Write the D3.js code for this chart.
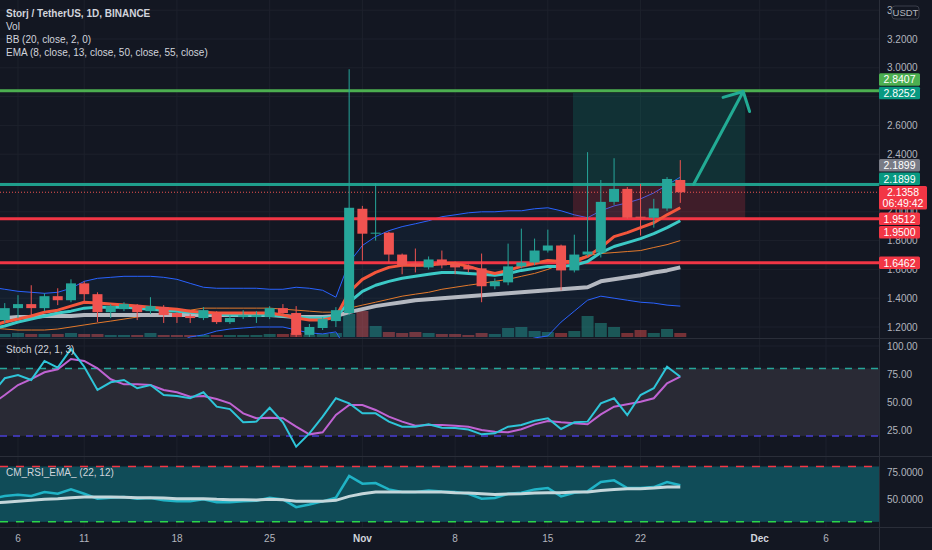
<!DOCTYPE html>
<html>
<head>
<meta charset="utf-8">
<script src="https://cdn.jsdelivr.net/npm/d3@7"></script>
<style>
  html, body { margin: 0; padding: 0; background: #131722; }
  svg { display: block; }
  text { font-family: "Liberation Sans", Arial, sans-serif; }
</style>
</head>
<body>
<svg id="chart" width="932" height="550"></svg>
<script>
// daily bars, first one is Oct 4 2021
var opens = [1.221, 1.248, 1.331, 1.359, 1.331, 1.414, 1.386, 1.503, 1.428, 1.303, 1.324, 1.352, 1.310, 1.338, 1.297, 1.276, 1.262, 1.297, 1.234, 1.269, 1.269, 1.269, 1.331, 1.297, 1.145, 1.193, 1.241, 1.297, 2.021, 1.848, 1.855, 1.703, 1.641, 1.614, 1.669, 1.641, 1.621, 1.607, 1.483, 1.510, 1.621, 1.648, 1.731, 1.766, 1.593, 1.703, 1.717, 2.069, 2.159, 1.966, 1.959, 2.023, 2.221];
var highs = [1.269, 1.366, 1.421, 1.490, 1.434, 1.469, 1.531, 1.517, 1.441, 1.359, 1.372, 1.359, 1.407, 1.352, 1.303, 1.290, 1.338, 1.310, 1.283, 1.317, 1.310, 1.345, 1.359, 1.345, 1.221, 1.269, 1.338, 2.990, 2.041, 2.200, 1.862, 1.710, 1.745, 1.690, 1.731, 1.655, 1.635, 1.710, 1.538, 1.779, 1.883, 1.814, 1.876, 1.772, 1.841, 2.414, 2.221, 2.372, 2.172, 2.193, 2.090, 2.241, 2.359];
var lows = [1.200, 1.228, 1.262, 1.283, 1.310, 1.352, 1.372, 1.366, 1.234, 1.262, 1.310, 1.248, 1.290, 1.228, 1.228, 1.228, 1.248, 1.221, 1.221, 1.255, 1.228, 1.255, 1.276, 1.131, 1.131, 1.179, 1.200, 1.283, 1.662, 1.800, 1.648, 1.566, 1.579, 1.600, 1.607, 1.566, 1.579, 1.372, 1.462, 1.490, 1.607, 1.628, 1.717, 1.455, 1.579, 1.690, 1.683, 2.048, 1.952, 1.835, 1.890, 2.007, 2.062];
var closes = [1.248, 1.331, 1.359, 1.331, 1.414, 1.386, 1.503, 1.428, 1.303, 1.345, 1.359, 1.303, 1.345, 1.283, 1.269, 1.262, 1.317, 1.234, 1.262, 1.283, 1.283, 1.331, 1.297, 1.145, 1.200, 1.255, 1.317, 2.028, 1.848, 1.855, 1.703, 1.628, 1.621, 1.669, 1.628, 1.614, 1.600, 1.483, 1.517, 1.621, 1.648, 1.731, 1.766, 1.593, 1.703, 1.724, 2.069, 2.159, 1.959, 1.959, 2.023, 2.228, 2.1358];
var volumes = [6, 6, 8, 6, 6, 6, 8, 6, 6, 4, 4, 4, 8, 4, 4, 4, 4, 4, 4, 4, 4, 6, 6, 8, 4, 6, 8, 46, 52, 22, 10, 8, 10, 8, 6, 6, 4, 8, 6, 18, 20, 12, 10, 8, 12, 42, 28, 20, 8, 14, 8, 16, 8];

var ema8 = [1.207, 1.235, 1.255, 1.276, 1.303, 1.317, 1.345, 1.372, 1.366, 1.359, 1.352, 1.345, 1.338, 1.331, 1.324, 1.310, 1.303, 1.297, 1.297, 1.297, 1.297, 1.297, 1.283, 1.262, 1.248, 1.248, 1.269, 1.441, 1.531, 1.579, 1.614, 1.628, 1.628, 1.628, 1.641, 1.641, 1.621, 1.593, 1.572, 1.593, 1.621, 1.641, 1.662, 1.655, 1.655, 1.690, 1.752, 1.828, 1.855, 1.890, 1.924, 1.979, 2.028];
var ema13 = [1.186, 1.207, 1.235, 1.255, 1.276, 1.297, 1.310, 1.331, 1.338, 1.338, 1.338, 1.331, 1.324, 1.317, 1.310, 1.303, 1.297, 1.290, 1.283, 1.283, 1.283, 1.283, 1.276, 1.269, 1.262, 1.262, 1.269, 1.372, 1.448, 1.490, 1.517, 1.538, 1.552, 1.566, 1.579, 1.579, 1.572, 1.566, 1.559, 1.572, 1.593, 1.607, 1.621, 1.621, 1.628, 1.655, 1.717, 1.759, 1.786, 1.814, 1.848, 1.890, 1.938];
var ema55 = [1.262, 1.262, 1.269, 1.269, 1.276, 1.276, 1.276, 1.283, 1.283, 1.283, 1.283, 1.283, 1.283, 1.283, 1.283, 1.283, 1.283, 1.283, 1.283, 1.283, 1.283, 1.283, 1.276, 1.269, 1.269, 1.269, 1.276, 1.303, 1.324, 1.345, 1.359, 1.372, 1.386, 1.393, 1.400, 1.407, 1.414, 1.421, 1.428, 1.434, 1.441, 1.448, 1.455, 1.462, 1.469, 1.476, 1.517, 1.531, 1.545, 1.559, 1.579, 1.593, 1.614];
var bbBasis = [1.193, 1.186, 1.179, 1.179, 1.179, 1.186, 1.200, 1.214, 1.228, 1.241, 1.255, 1.269, 1.283, 1.297, 1.310, 1.317, 1.331, 1.331, 1.331, 1.331, 1.331, 1.331, 1.324, 1.317, 1.310, 1.303, 1.303, 1.331, 1.352, 1.372, 1.393, 1.414, 1.428, 1.441, 1.462, 1.476, 1.490, 1.503, 1.517, 1.531, 1.552, 1.572, 1.600, 1.638, 1.669, 1.697, 1.710, 1.717, 1.724, 1.731, 1.752, 1.772, 1.800];
var bbUpper = [1.476, 1.462, 1.448, 1.441, 1.434, 1.441, 1.469, 1.517, 1.538, 1.545, 1.552, 1.552, 1.552, 1.545, 1.531, 1.503, 1.476, 1.469, 1.469, 1.469, 1.469, 1.462, 1.462, 1.476, 1.469, 1.455, 1.407, 1.648, 1.766, 1.828, 1.869, 1.897, 1.917, 1.938, 1.966, 1.979, 1.993, 2.000, 2.000, 2.007, 2.007, 2.021, 2.028, 2.007, 1.979, 1.959, 2.007, 2.041, 2.062, 2.090, 2.131, 2.186, 2.241];
var bbLower = [0.910, 0.910, 0.910, 0.917, 0.924, 0.931, 0.931, 0.910, 0.917, 0.938, 0.959, 0.986, 1.014, 1.048, 1.090, 1.131, 1.145, 1.172, 1.186, 1.193, 1.200, 1.200, 1.200, 1.179, 1.159, 1.152, 1.166, 1.014, 0.938, 0.917, 0.917, 0.931, 0.938, 0.945, 0.959, 0.972, 0.986, 1.007, 1.034, 1.055, 1.097, 1.124, 1.138, 1.234, 1.310, 1.386, 1.414, 1.400, 1.386, 1.372, 1.366, 1.352, 1.345];

var stochK = [57.0, 71.3, 74.2, 69.8, 86.7, 80.7, 97.3, 81.6, 60.9, 67.7, 69.8, 62.4, 65.3, 56.4, 55.5, 53.5, 58.8, 46.0, 43.9, 32.1, 32.7, 45.1, 32.1, 10.4, 22.3, 37.1, 53.5, 49.0, 40.1, 40.1, 32.7, 28.2, 28.2, 30.3, 27.3, 27.0, 25.7, 21.4, 22.3, 28.2, 29.7, 33.5, 35.7, 26.2, 32.1, 32.7, 49.0, 53.5, 38.6, 56.4, 62.4, 81.6, 72.7];
var stochD = [48.0, 56.4, 65.3, 70.6, 76.6, 79.3, 88.4, 86.7, 80.2, 70.4, 65.9, 65.9, 65.3, 60.9, 58.8, 54.9, 55.5, 52.8, 49.0, 40.1, 35.7, 36.2, 35.7, 28.2, 21.4, 23.2, 38.6, 47.5, 47.5, 43.1, 37.1, 32.7, 29.1, 29.7, 29.7, 29.1, 28.2, 25.3, 23.8, 23.2, 25.9, 30.3, 33.3, 32.1, 31.2, 30.3, 39.2, 46.0, 48.1, 50.4, 53.5, 66.8, 72.7];
var rsi = [51.0, 53.3, 54.5, 53.3, 56.9, 55.4, 59.3, 55.4, 50.9, 51.8, 52.4, 50.9, 51.5, 49.4, 48.7, 48.5, 50.3, 47.8, 47.8, 48.7, 49.0, 51.8, 50.3, 43.3, 45.7, 48.5, 51.8, 71.4, 64.5, 65.0, 59.3, 56.9, 56.9, 58.4, 57.5, 56.9, 55.4, 50.9, 51.5, 55.4, 56.3, 59.3, 60.5, 53.0, 56.3, 57.5, 66.0, 67.5, 60.5, 60.5, 61.4, 66.0, 63.0];
var rsiEma = [47.0, 47.8, 48.7, 49.4, 50.3, 50.9, 51.8, 52.4, 52.4, 52.4, 52.1, 51.8, 51.8, 51.5, 50.9, 50.9, 50.9, 50.3, 50.0, 50.0, 49.7, 50.3, 50.0, 48.7, 48.5, 48.7, 49.4, 53.0, 55.4, 56.9, 56.9, 56.9, 56.9, 56.9, 56.9, 56.3, 56.0, 55.4, 54.8, 55.1, 55.4, 56.0, 56.3, 56.3, 56.9, 56.9, 58.4, 59.3, 59.9, 59.9, 60.5, 61.4, 61.4];

var timeTicks = ["2021-10-06", "2021-10-11", "2021-10-18", "2021-10-25", "2021-11-01", "2021-11-08", "2021-11-15", "2021-11-22", "2021-12-01", "2021-12-06"];
var priceTicks = [1.2, 1.4, 1.6, 1.8, 2.0, 2.2, 2.4, 2.6, 2.8, 3.0, 3.2, 3.4];
var stochTicks = [25, 50, 75, 100];
var rsiTicks = [50, 75];

// drawn levels and the long position tool (days counted from Oct 4)
var levels = [
  { price: 2.8407, color: "#4caf50" },
  { price: 2.1899, color: "#1f9e8c" },
  { price: 1.9512, color: "#f23645" },
  { price: 1.6462, color: "#f23645" }
];
var longPos = { from: 43.9, to: 56.9, entry: 2.1899, target: 2.8252, stop: 1.95 };
var arrowFrom = { day: 53, price: 2.19 };
var arrowTo = { day: 56.75, price: 2.835 };

var priceTags = [
  { text: "2.8407", price: 2.8407, bg: "#4caf50", move: "up" },
  { text: "2.8252", price: 2.8252, bg: "#089981", move: "fixed" },
  { text: "2.1899", price: 2.1899, bg: "#787b86", move: "up" },
  { text: "2.1899", price: 2.1899, bg: "#089981", move: "up" },
  { text: "2.1358", sub: "06:49:42", price: 2.1358, bg: "#f23645", move: "fixed" },
  { text: "1.9512", price: 1.9512, bg: "#f23645", move: "fixed" },
  { text: "1.9500", price: 1.95, bg: "#f23645", move: "down" },
  { text: "1.6462", price: 1.6462, bg: "#f23645", move: "fixed" }
];

var svg = d3.select("#chart");
var W = 932, H = 550, plotW = 879;
var mainTop = 0, mainBot = 338, stTop = 339, stBot = 456, rsTop = 457, rsBot = 527;
var up = "#26a69a", down = "#ef5350", gridC = "#1d212c", sepC = "#2a2e39", axisText = "#b2b5be";

var t0 = Date.UTC(2021, 9, 4);
var day = function (i) { return new Date(t0 + i * 864e5); };
var x = d3.scaleUtc().domain([day(0), day(63)]).range([-8.5, 826]);
var yP = d3.scaleLinear().domain([1.2, 3.2]).range([327, 39]);
var yVol = d3.scaleLinear().domain([0, 60]).range([337, 307]);
var yS = d3.scaleLinear().domain([0, 100]).range([458.4, 346]);
var yR = d3.scaleLinear().domain([0, 100]).range([555.1, 444.3]);

var bars = opens.map(function (o, i) {
  return { i: i, date: day(i), o: o, h: highs[i], l: lows[i], c: closes[i], v: volumes[i] };
});

svg.append("rect").attr("width", W).attr("height", H).attr("fill", "#131722");

var defs = svg.append("defs");
[["clipMain", mainTop, mainBot], ["clipSt", stTop, stBot], ["clipRs", rsTop, rsBot]].forEach(function (c) {
  defs.append("clipPath").attr("id", c[0]).append("rect")
    .attr("x", 0).attr("y", c[1]).attr("width", plotW).attr("height", c[2] - c[1]);
});

// grid
var grid = svg.append("g");
var parseDay = d3.utcParse("%Y-%m-%d");
var tickDates = timeTicks.map(parseDay);
grid.selectAll("line.v").data(tickDates).join("line")
  .attr("x1", function (d) { return x(d); }).attr("x2", function (d) { return x(d); })
  .attr("y1", 0).attr("y2", rsBot).attr("stroke", gridC);
grid.selectAll("line.hp").data(priceTicks).join("line")
  .attr("x1", 0).attr("x2", plotW).attr("y1", function (d) { return yP(d); }).attr("y2", function (d) { return yP(d); })
  .attr("stroke", gridC);
grid.selectAll("line.hs").data(stochTicks).join("line")
  .attr("x1", 0).attr("x2", plotW).attr("y1", function (d) { return yS(d); }).attr("y2", function (d) { return yS(d); })
  .attr("stroke", gridC);
grid.selectAll("line.hr").data(rsiTicks).join("line")
  .attr("x1", 0).attr("x2", plotW).attr("y1", function (d) { return yR(d); }).attr("y2", function (d) { return yR(d); })
  .attr("stroke", gridC);

// ---------- main pane ----------
var main = svg.append("g").attr("clip-path", "url(#clipMain)");

// volume
main.selectAll("rect.vol").data(bars).join("rect")
  .attr("x", function (d) { return x(d.date) - 6; })
  .attr("y", function (d) { return yVol(d.v); })
  .attr("width", 12)
  .attr("height", function (d) { return yVol(0) - yVol(d.v); })
  .attr("fill", function (d) { return d.c >= d.o ? up : down; })
  .attr("opacity", 0.45);

// bollinger fill and bands
main.append("path").datum(bars)
  .attr("fill", "rgba(33,150,243,0.06)")
  .attr("d", d3.area().x(function (d) { return x(d.date); })
    .y0(function (d) { return yP(bbLower[d.i]); })
    .y1(function (d) { return yP(bbUpper[d.i]); }));

function line(arr, scale) {
  return d3.line().x(function (d) { return x(d.date); }).y(function (d) { return scale(arr[d.i]); });
}
[[bbUpper, "#2962ff", 1], [bbLower, "#2962ff", 1], [bbBasis, "#e3792b", 1]].forEach(function (s) {
  main.append("path").datum(bars).attr("fill", "none")
    .attr("stroke", s[1]).attr("stroke-width", s[2]).attr("d", line(s[0], yP));
});

// long position zones
main.append("rect")
  .attr("x", x(day(longPos.from))).attr("width", x(day(longPos.to)) - x(day(longPos.from)))
  .attr("y", yP(longPos.target)).attr("height", yP(longPos.entry) - yP(longPos.target))
  .attr("fill", "rgba(8,153,129,0.2)");
main.append("rect")
  .attr("x", x(day(longPos.from))).attr("width", x(day(longPos.to)) - x(day(longPos.from)))
  .attr("y", yP(longPos.entry)).attr("height", yP(longPos.stop) - yP(longPos.entry))
  .attr("fill", "rgba(242,54,69,0.2)");

// horizontal levels
main.selectAll("line.lvl").data(levels).join("line")
  .attr("x1", 0).attr("x2", plotW)
  .attr("y1", function (d) { return yP(d.price); }).attr("y2", function (d) { return yP(d.price); })
  .attr("stroke", function (d) { return d.color; }).attr("stroke-width", 3);

// EMAs
[[ema55, "#b4b8c0", 4], [ema13, "#3cc9c6", 3], [ema8, "#f4563c", 3]].forEach(function (s) {
  main.append("path").datum(bars).attr("fill", "none")
    .attr("stroke", s[1]).attr("stroke-width", s[2]).attr("stroke-linejoin", "round")
    .attr("d", line(s[0], yP));
});

// current price line
var last = bars[bars.length - 1];
main.append("line").attr("x1", 0).attr("x2", plotW)
  .attr("y1", yP(last.c)).attr("y2", yP(last.c))
  .attr("stroke", down).attr("stroke-dasharray", "1,2");

// candles
var bw = 10;
var cg = main.selectAll("g.candle").data(bars).join("g");
cg.append("line")
  .attr("x1", function (d) { return x(d.date); }).attr("x2", function (d) { return x(d.date); })
  .attr("y1", function (d) { return yP(d.h); }).attr("y2", function (d) { return yP(d.l); })
  .attr("stroke", function (d) { return d.c >= d.o ? up : down; });
cg.append("rect")
  .attr("x", function (d) { return x(d.date) - bw / 2; })
  .attr("width", bw)
  .attr("y", function (d) { return yP(Math.max(d.o, d.c)); })
  .attr("height", function (d) { return Math.max(1, Math.abs(yP(d.o) - yP(d.c))); })
  .attr("fill", function (d) { return d.c >= d.o ? up : down; });

// arrow
var ax1 = x(day(arrowFrom.day)), ay1 = yP(arrowFrom.price);
var ax2 = x(day(arrowTo.day)), ay2 = yP(arrowTo.price);
var ang = Math.atan2(ay1 - ay2, ax1 - ax2);
var headLen = 21;
var arrowPath = d3.path();
arrowPath.moveTo(ax1, ay1); arrowPath.lineTo(ax2, ay2);
[-0.8, 0.8].forEach(function (da) {
  arrowPath.moveTo(ax2, ay2);
  arrowPath.lineTo(ax2 + headLen * Math.cos(ang + da), ay2 + headLen * Math.sin(ang + da));
});
main.append("path").attr("d", arrowPath.toString()).attr("fill", "none")
  .attr("stroke", "#22ab94").attr("stroke-width", 3).attr("stroke-linecap", "round");

// ---------- stochastic pane ----------
var st = svg.append("g").attr("clip-path", "url(#clipSt)");
st.append("rect").attr("x", 0).attr("width", plotW)
  .attr("y", yS(80)).attr("height", yS(20) - yS(80)).attr("fill", "#292a35");
st.append("line").attr("x1", 0).attr("x2", plotW).attr("y1", yS(80)).attr("y2", yS(80))
  .attr("stroke", "#26a69a").attr("stroke-width", 1.5).attr("stroke-dasharray", "7,6");
st.append("line").attr("x1", 0).attr("x2", plotW).attr("y1", yS(20)).attr("y2", yS(20))
  .attr("stroke", "#4a3fd6").attr("stroke-width", 1.5).attr("stroke-dasharray", "7,6");
st.append("path").datum(bars).attr("fill", "none").attr("stroke", "#c063d3").attr("stroke-width", 2)
  .attr("d", line(stochD, yS));
st.append("path").datum(bars).attr("fill", "none").attr("stroke", "#2ec5d9").attr("stroke-width", 2)
  .attr("d", line(stochK, yS));

// ---------- rsi pane ----------
var rs = svg.append("g").attr("clip-path", "url(#clipRs)");
rs.append("rect").attr("x", 0).attr("width", plotW)
  .attr("y", yR(80)).attr("height", yR(30) - yR(80)).attr("fill", "#104c58");
rs.append("line").attr("x1", 0).attr("x2", plotW).attr("y1", yR(80)).attr("y2", yR(80))
  .attr("stroke", "#f23645").attr("stroke-width", 1.5).attr("stroke-dasharray", "8,8");
rs.append("line").attr("x1", 0).attr("x2", plotW).attr("y1", yR(30)).attr("y2", yR(30))
  .attr("stroke", "#2bd64a").attr("stroke-width", 1.5).attr("stroke-dasharray", "8,8");
rs.append("path").datum(bars).attr("fill", "none").attr("stroke", "#20b3c6").attr("stroke-width", 2.5)
  .attr("d", line(rsi, yR));
rs.append("path").datum(bars).attr("fill", "none").attr("stroke", "#c4d6da").attr("stroke-width", 3)
  .attr("d", line(rsiEma, yR));

// separators
svg.append("line").attr("x1", plotW + 0.5).attr("x2", plotW + 0.5).attr("y1", 0).attr("y2", H).attr("stroke", sepC);
[mainBot + 0.5, stBot + 0.5, rsBot + 0.5].forEach(function (yy) {
  svg.append("line").attr("x1", 0).attr("x2", W).attr("y1", yy).attr("y2", yy).attr("stroke", sepC);
});

// price tags, stacked so they do not overlap
priceTags.forEach(function (t) {
  t.h = t.sub ? 23.5 : 12.5;
  t.top = yP(t.price) - 6.25;
});
for (var i = 1; i < priceTags.length; i++) {
  var p = priceTags[i - 1], t = priceTags[i];
  if (t.move === "down" && t.top < p.top + p.h + 1) t.top = p.top + p.h + 1;
}
for (var j = priceTags.length - 2; j >= 0; j--) {
  var n = priceTags[j + 1], u = priceTags[j];
  if (u.move === "up" && u.top + u.h + 1 > n.top) u.top = n.top - u.h - 1;
}
// a tick label whose centre sits under a tag is hidden, as on the reference
function underTag(yy) {
  return priceTags.some(function (t) { return yy > t.top && yy < t.top + t.h; });
}

// ---------- axes ----------
var axisG = svg.append("g").attr("font-size", 10).attr("fill", axisText);
axisG.selectAll("text.p").data(priceTicks.filter(function (d) { return !underTag(yP(d)); })).join("text")
  .attr("x", 887).attr("y", function (d) { return yP(d); }).attr("dy", "0.35em")
  .text(function (d) { return d.toFixed(4); });
axisG.selectAll("text.s").data(stochTicks).join("text")
  .attr("x", 887).attr("y", function (d) { return yS(d); }).attr("dy", "0.35em")
  .text(function (d) { return d.toFixed(2); });
axisG.selectAll("text.r").data(rsiTicks).join("text")
  .attr("x", 887).attr("y", function (d) { return yR(d); }).attr("dy", "0.35em")
  .text(function (d) { return d.toFixed(4); });

var monthFmt = d3.utcFormat("%b");
axisG.selectAll("text.t").data(tickDates).join("text")
  .attr("x", function (d) { return x(d); }).attr("y", 542)
  .attr("text-anchor", "middle")
  .attr("font-weight", function (d) { return d.getUTCDate() === 1 ? "bold" : null; })
  .attr("fill", function (d) { return d.getUTCDate() === 1 ? "#d1d4dc" : axisText; })
  .text(function (d) { return d.getUTCDate() === 1 ? monthFmt(d) : d.getUTCDate(); });

// USDT badge
svg.append("rect").attr("x", 892).attr("y", 6).attr("width", 27).attr("height", 13).attr("rx", 3)
  .attr("fill", "#131722").attr("stroke", "#3a3e4a");
svg.append("text").attr("x", 905.5).attr("y", 16).attr("text-anchor", "middle")
  .attr("font-size", 9.5).attr("fill", axisText).text("USDT");

var tagG = svg.selectAll("g.tag").data(priceTags).join("g");
tagG.append("rect")
  .attr("x", plotW).attr("y", function (d) { return d.top; })
  .attr("width", function (d) { return d.sub ? 48 : 41; })
  .attr("height", function (d) { return d.h; })
  .attr("rx", 1.5)
  .attr("fill", function (d) { return d.bg; });
tagG.append("text")
  .attr("x", function (d) { return plotW + (d.sub ? 24 : 20.5); })
  .attr("y", function (d) { return d.top + 6.25; }).attr("dy", "0.36em")
  .attr("text-anchor", "middle").attr("font-size", 10.5).attr("fill", "#ffffff")
  .text(function (d) { return d.text; });
tagG.filter(function (d) { return d.sub; }).append("text")
  .attr("x", plotW + 24).attr("y", function (d) { return d.top + 17.5; }).attr("dy", "0.36em")
  .attr("text-anchor", "middle").attr("font-size", 10.5).attr("fill", "#ffffff")
  .text(function (d) { return d.sub; });

// ---------- legends ----------
var leg = svg.append("g").attr("font-size", 10).attr("fill", "#d1d4dc");
leg.append("text").attr("x", 6).attr("y", 16.5).attr("font-weight", "bold").text("Storj / TetherUS, 1D, BINANCE");
leg.append("text").attr("x", 6).attr("y", 29.5).text("Vol");
leg.append("text").attr("x", 6).attr("y", 43).text("BB (20, close, 2, 0)");
leg.append("text").attr("x", 6).attr("y", 56).text("EMA (8, close, 13, close, 50, close, 55, close)");
leg.append("text").attr("x", 6).attr("y", 352.5).text("Stoch (22, 1, 3)");
leg.append("text").attr("x", 6).attr("y", 475.5).text("CM_RSI_EMA_ (22, 12)");
</script>
</body>
</html>
